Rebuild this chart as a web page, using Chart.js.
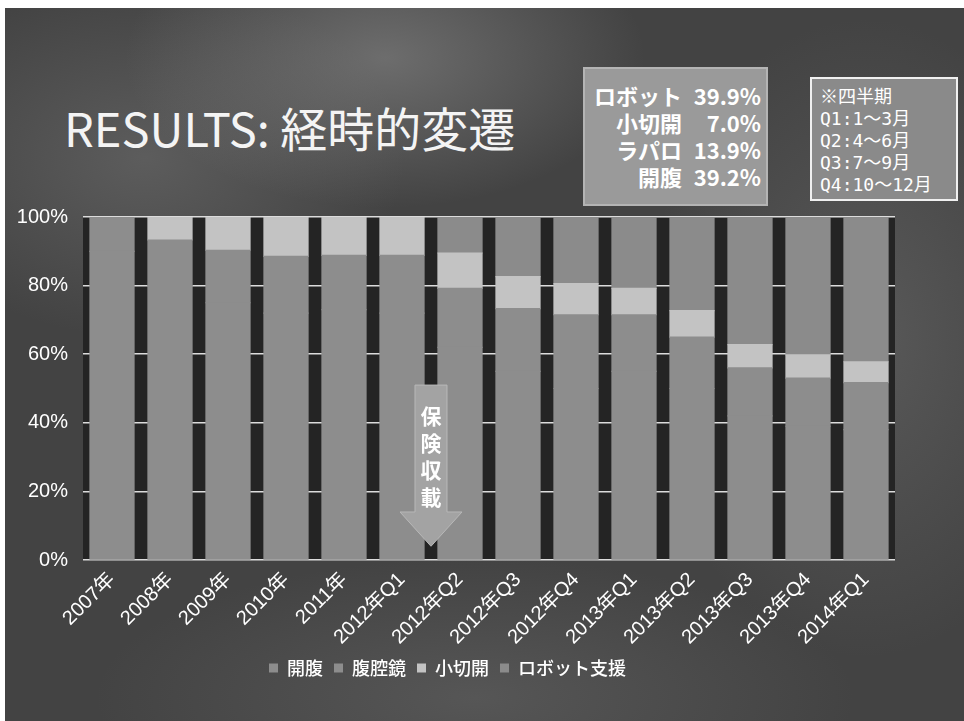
<!DOCTYPE html>
<html>
<head>
<meta charset="utf-8">
<script src="https://cdn.jsdelivr.net/npm/chart.js@4.4.1/dist/chart.umd.min.js"></script>
<style>
  html, body { margin: 0; padding: 0; width: 964px; height: 721px; overflow: hidden; background: #fff; }
  #slide {
    position: absolute; left: 5px; top: 8px; width: 959px; height: 713px;
    background:
      radial-gradient(ellipse 260px 150px at 380px 50px, rgba(160,160,160,0.45), rgba(160,160,160,0)),
      radial-gradient(ellipse 260px 180px at 140px 150px, rgba(140,140,140,0.35), rgba(140,140,140,0)),
      radial-gradient(ellipse 220px 320px at 860px 330px, rgba(130,130,130,0.35), rgba(130,130,130,0)),
      radial-gradient(ellipse 380px 140px at 470px 690px, rgba(130,130,130,0.3), rgba(130,130,130,0)),
      #434343;
  }
  #title {
    position: absolute; left: 64px; top: 92px; color: #f4f4f4;
    font: 400 47px "Noto Sans CJK JP", "Open Sans", sans-serif;
  }
  #summary {
    position: absolute; left: 583px; top: 67px; width: 185px; height: 139px;
    background: #9a9a9a; border: 2px solid #b4b4b4; box-sizing: border-box;
    color: #fff; font: 700 22px "Noto Sans CJK JP", sans-serif;
  }
  #summary .row { position: absolute; left: 0; width: 100%; height: 27px; line-height: 27px; }
  #summary .lab { position: absolute; right: 84px; }
  #summary .val { position: absolute; right: 5px; }
  #quarters {
    position: absolute; left: 810px; top: 77px; width: 148px; height: 124px;
    border: 2px solid #f0f0f0; box-sizing: border-box; background: #8a8a8a;
    color: #fff; font: 400 18px "DejaVu Sans Mono", "Noto Sans CJK JP", monospace;
    padding: 7px 0 0 8px; line-height: 22px;
  }
  #wrap { position: absolute; left: 0; top: 190px; width: 914px; height: 531px; }
</style>
</head>
<body>
<div id="slide"></div>
<div id="title">RESULTS: 経時的変遷</div>
<div id="summary"></div>
<div id="quarters"></div>
<div id="wrap"><canvas id="chart" width="914" height="531"></canvas></div>
<script>
// categories and series (% of cases per period)
const categories = ['2007年', '2008年', '2009年', '2010年', '2011年', '2012年Q1', '2012年Q2',
  '2012年Q3', '2012年Q4', '2013年Q1', '2013年Q2', '2013年Q3', '2013年Q4', '2014年Q1'];
const seriesNames = ['開腹', '腹腔鏡', '小切開', 'ロボット支援'];
const openVals   = [90, 80, 75, 72, 73, 72, 62, 55, 50, 55, 50, 42, 39, 38];
const laparoVals = [10, 13.3, 15.3, 16.5, 15.8, 16.8, 17.2, 18.3, 21.5, 16.5, 15, 14, 14, 13.7];
const miniVals   = [0, 6.7, 9.7, 11.5, 11.2, 11.2, 10.3, 9.3, 9.1, 7.7, 7.7, 6.8, 6.8, 6.1];
const robotVals  = [0, 0, 0, 0, 0, 0, 10.5, 17.4, 19.4, 20.8, 27.3, 37.2, 40.2, 42.2];
const yTicks = [0, 20, 40, 60, 80, 100];

// text boxes
const summaryLabels = ['ロボット', '小切開', 'ラパロ', '開腹'];
const summaryValues = ['39.9%', '7.0%', '13.9%', '39.2%'];
const quarterNotes = ['※四半期', 'Q1:1～3月', 'Q2:4～6月', 'Q3:7～9月', 'Q4:10～12月'];
const insuranceText = '保険収載';

const summaryEl = document.getElementById('summary');
summaryEl.innerHTML = summaryLabels.map((l, i) =>
  `<div class="row" style="top:${13 + i * 27}px"><span class="lab">${l}</span><span class="val">${summaryValues[i]}</span></div>`).join('');
document.getElementById('quarters').innerHTML = quarterNotes.map(t => `<div>${t}</div>`).join('');

const tickFont = { family: "'Liberation Sans', 'Noto Sans CJK JP', sans-serif", size: 20 };

// dark plot area behind the grid
const plotBg = {
  id: 'plotBg',
  beforeDraw(chart) {
    const { ctx, chartArea: a } = chart;
    ctx.save();
    ctx.fillStyle = '#242424';
    ctx.fillRect(a.left, a.top, a.right - a.left, a.bottom - a.top);
    ctx.restore();
  }
};

// the "保険収載" arrow between 2012Q1 and 2012Q2
const insuranceArrow = {
  id: 'insuranceArrow',
  afterDatasetsDraw(chart) {
    const { ctx, scales: { x, y } } = chart;
    const cx = (x.getPixelForValue(5) + x.getPixelForValue(6)) / 2;
    const yTop = y.getPixelForValue(51);
    const yHead = y.getPixelForValue(14);
    const yTip = y.getPixelForValue(4);
    ctx.save();
    ctx.beginPath();
    ctx.moveTo(cx - 16, yTop);
    ctx.lineTo(cx + 16, yTop);
    ctx.lineTo(cx + 16, yHead);
    ctx.lineTo(cx + 31, yHead);
    ctx.lineTo(cx, yTip);
    ctx.lineTo(cx - 31, yHead);
    ctx.lineTo(cx - 16, yHead);
    ctx.closePath();
    ctx.fillStyle = '#a3a3a3';
    ctx.fill();
    ctx.strokeStyle = '#b8b8b8';
    ctx.lineWidth = 1;
    ctx.stroke();
    ctx.fillStyle = '#fff';
    ctx.font = "700 21px 'Noto Sans CJK JP', sans-serif";
    ctx.textAlign = 'center';
    ctx.textBaseline = 'middle';
    [...insuranceText].forEach((ch, i) => ctx.fillText(ch, cx, yTop + 31 + i * 27));
    ctx.restore();
  }
};

const colors = ['#8d8d8d', '#8d8d8d', '#c3c3c3', '#8b8b8b'];
const values = [openVals, laparoVals, miniVals, robotVals];

new Chart(document.getElementById('chart'), {
  type: 'bar',
  data: {
    labels: categories,
    datasets: seriesNames.map((name, i) => ({
      label: name,
      data: values[i],
      backgroundColor: colors[i],
      borderWidth: 0,
      inflateAmount: 0.6,
      categoryPercentage: 1,
      barPercentage: 0.76
    }))
  },
  options: {
    responsive: false,
    devicePixelRatio: 1,
    animation: false,
    layout: { padding: { top: 27, right: 19, left: 0, bottom: 34 } },
    plugins: {
      legend: {
        position: 'bottom',
        labels: { color: '#fff', font: { family: "'Noto Sans CJK JP', sans-serif", size: 18, weight: '500' }, boxWidth: 9, boxHeight: 9, padding: 11 }
      },
      tooltip: { enabled: false }
    },
    scales: {
      x: {
        stacked: true,
        grid: { display: false },
        border: { display: false },
        ticks: { color: '#fff', font: tickFont, minRotation: 45, maxRotation: 45, autoSkip: false, padding: 0 },
        afterFit: s => { s.height = 88; }
      },
      y: {
        stacked: true,
        min: 0, max: 100,
        afterBuildTicks: s => { s.ticks = yTicks.map(v => ({ value: v })); },
        ticks: { color: '#fff', font: tickFont, padding: 15, callback: v => v + '%' },
        grid: { color: '#dcdcdc', lineWidth: 1.5, drawTicks: false },
        border: { display: false },
        afterFit: s => { s.width = 83; }
      }
    }
  },
  plugins: [plotBg, insuranceArrow]
});
</script>
</body>
</html>
